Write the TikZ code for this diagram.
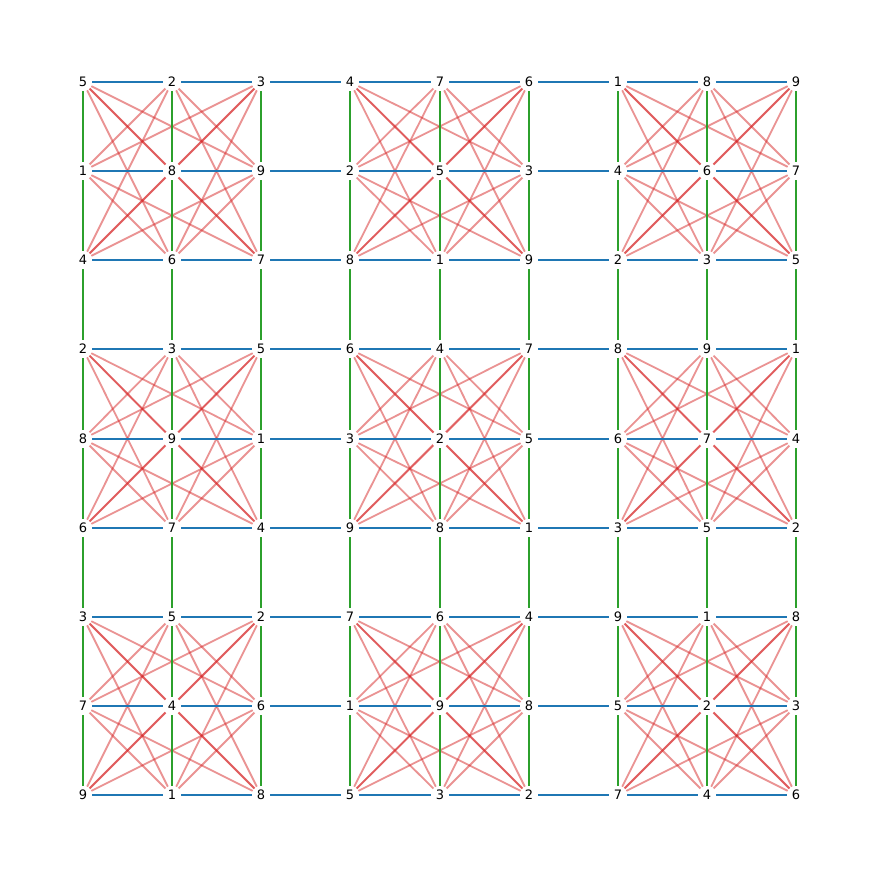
\documentclass[tikz,border=0pt]{standalone}
\usepackage{fontspec}
\setmainfont{DejaVu Sans}
\usetikzlibrary{backgrounds}
\tikzset{
  % --- O so ---------------------------------------------------
  cell/.style={circle, fill=white, inner sep=0pt, minimum size=18pt,
    font=\fontsize{13}{13}\selectfont},
  % --- Canh -----------------------------------------------------
  rowedge/.style={line width=2pt, draw={rgb,255:red,31;green,119;blue,180}},
  coledge/.style={line width=2pt, draw={rgb,255:red,44;green,160;blue,44}},
  boxedge/.style={line width=1.8pt, draw={rgb,255:red,214;green,39;blue,40},
    draw opacity=0.5}
}

\begin{document}
\begin{tikzpicture}[x=1pt, y=-1pt]

  \useasboundingbox (0,0) rectangle (878,878);

  % --- Cac o, theo hang ---
  \foreach \row [count=\r from 0] in
    {{5,2,3,4,7,6,1,8,9}, {1,8,9,2,5,3,4,6,7}, {4,6,7,8,1,9,2,3,5},
     {2,3,5,6,4,7,8,9,1}, {8,9,1,3,2,5,6,7,4}, {6,7,4,9,8,1,3,5,2},
     {3,5,2,7,6,4,9,1,8}, {7,4,6,1,9,8,5,2,3}, {9,1,8,5,3,2,7,4,6}}
    \foreach \v [count=\c from 0] in \row {
      \pgfmathsetmacro\px{round(83+89.125*\c)}
      \pgfmathsetmacro\py{round(82+89.125*\r)}
      \node[cell] (n-\r-\c) at (\px, \py) {\v};
    }

  \begin{scope}[on background layer]
    % --- Canh trong khoi 3x3: cheo ---
    \foreach \bi in {0,1,2}
      \foreach \bj in {0,1,2}
        \foreach \ra/\rb in {0/1, 0/2, 1/2}
          \foreach \ca in {0,1,2}
            \foreach \cb in {0,1,2} {
              \ifnum\ca=\cb\else
                \pgfmathtruncatemacro\ri{3*\bi+\ra}
                \pgfmathtruncatemacro\rj{3*\bi+\rb}
                \pgfmathtruncatemacro\ci{3*\bj+\ca}
                \pgfmathtruncatemacro\cj{3*\bj+\cb}
                \draw[boxedge] (n-\ri-\ci) -- (n-\rj-\cj);
              \fi
            }

    % --- Canh theo hang va theo cot ---
    \foreach \r in {0,...,8}
      \foreach \c [count=\cn from 1] in {0,...,7}
        \draw[rowedge] (n-\r-\c) -- (n-\r-\cn);
    \foreach \c in {0,...,8}
      \foreach \r [count=\rn from 1] in {0,...,7}
        \draw[coledge] (n-\r-\c) -- (n-\rn-\c);
  \end{scope}

\end{tikzpicture}
\end{document}
